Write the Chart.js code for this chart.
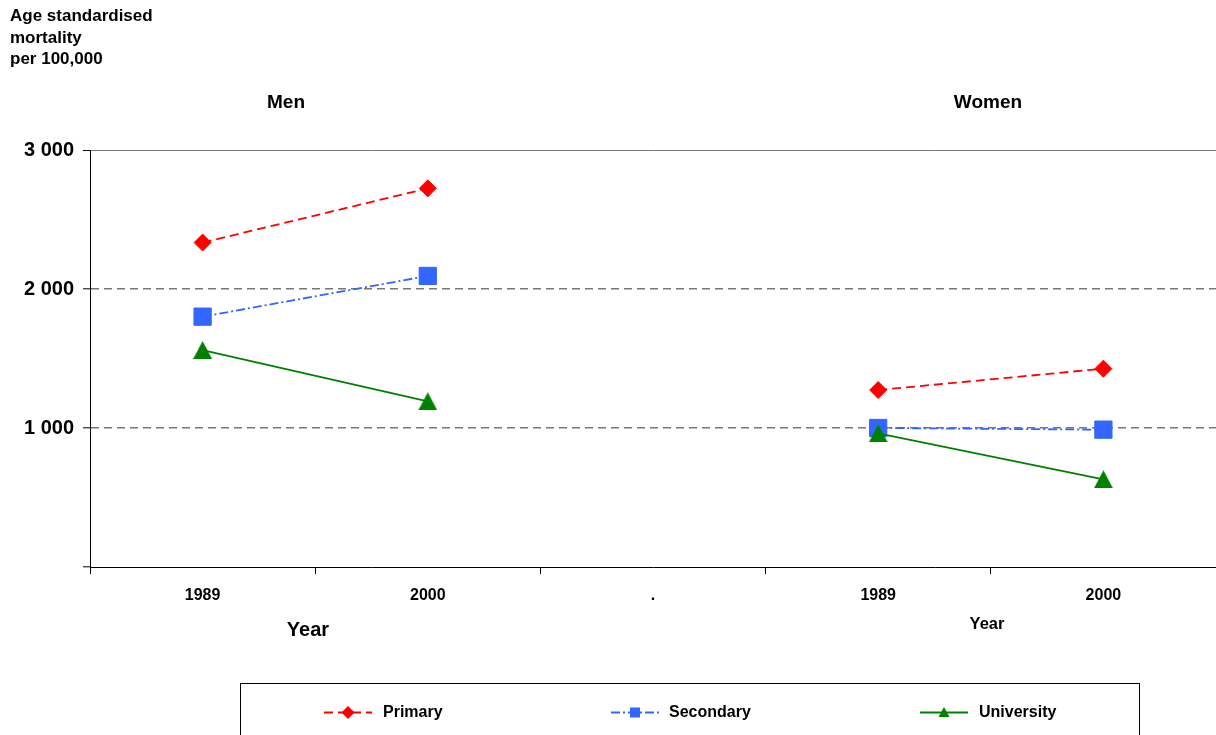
<!DOCTYPE html>
<html>
<head>
<meta charset="utf-8">
<script src="https://cdn.jsdelivr.net/npm/chart.js@4.4.0/dist/chart.umd.min.js"></script>
<style>
  html, body { margin: 0; padding: 0; background: #fff; }
  #wrap { position: relative; width: 1216px; height: 735px; overflow: hidden;
          font-family: "Liberation Sans", Arial, sans-serif; font-weight: bold; color: #000; }
  #chart { position: absolute; left: 0; top: 0; }
  .lbl { position: absolute; line-height: 1; white-space: nowrap; transform: translate(-50%, -50%); }
  #ytitle { position: absolute; left: 10px; top: 5px; font-size: 17px; line-height: 21.6px; }
  #legend { position: absolute; left: 240px; top: 683px; width: 900px; height: 70px;
            border: 1px solid #000; box-sizing: border-box; }
  .litem { position: absolute; top: 0; height: 100%; }
  .litem svg { position: absolute; top: 18px; }
  .litem span { position: absolute; top: 28px; font-size: 16px; line-height: 1; transform: translateY(-50%); white-space: nowrap; }
</style>
</head>
<body>
<div id="wrap">
  <canvas id="chart" width="1216" height="735"></canvas>
  <div id="ytitle">Age standardised<br>mortality<br>per 100,000</div>
  <div class="lbl" style="left:286px;top:101px;font-size:19px;">Men</div>
  <div class="lbl" style="left:988px;top:101px;font-size:19px;">Women</div>
  <div class="lbl" style="left:308px;top:629px;font-size:20px;">Year</div>
  <div class="lbl" style="left:987px;top:623px;font-size:16.5px;">Year</div>
  <div id="legend"></div>
</div>
<script>
// Year categories: men (1989, 2000), a spacer, women (1989, 2000)
const categories = ['1989', '2000', '.', '1989', '2000'];

// Age standardised mortality per 100,000 by education level
const primary    = [2334, 2724, null, 1273, 1427];
const secondary  = [1801, 2094, null, 1000, 988];
const university = [1561, 1192, null, 961, 631];

const seriesNames = ['Primary', 'Secondary', 'University'];
const yTicks = [0, 1000, 2000, 3000];

// Triangle marker centred on its bounding box
function triangleMarker(color, w, h) {
  const c = document.createElement('canvas');
  c.width = w; c.height = h;
  const g = c.getContext('2d');
  g.fillStyle = color;
  g.beginPath();
  g.moveTo(w / 2, 0);
  g.lineTo(w, h);
  g.lineTo(0, h);
  g.closePath();
  g.fill();
  return c;
}

const styles = [
  { color: '#FF0000', dash: [9, 5],       point: 'rectRot',  radius: 8.5 },
  { color: '#3366FF', dash: [9, 3, 2, 3], point: 'rect',     radius: 12.2 },
  { color: '#008000', dash: [],           point: 'triangle', radius: 10 }
];
const seriesData = [primary, secondary, university];

function fmtThousands(v) {
  if (v === 0) return '';
  const th = Math.floor(v / 1000);
  const rest = String(v % 1000).padStart(3, '0');
  return th + ' ' + rest;
}

const datasets = seriesNames.map((name, i) => ({
  label: name,
  data: seriesData[i],
  borderColor: styles[i].color,
  backgroundColor: styles[i].color,
  borderWidth: 1.8,
  borderDash: styles[i].dash,
  pointStyle: styles[i].point === 'triangle' ? triangleMarker(styles[i].color, 19, 18) : styles[i].point,
  pointRadius: styles[i].radius,
  pointHoverRadius: styles[i].radius,
  pointBorderWidth: 1,
  pointBorderColor: styles[i].color,
  pointBackgroundColor: styles[i].color,
  spanGaps: false,
  tension: 0,
  order: 2 - i
}));

new Chart(document.getElementById('chart'), {
  type: 'line',
  data: { labels: categories, datasets },
  options: {
    responsive: false,
    animation: false,
    layout: { autoPadding: false, padding: { top: 150, bottom: 128, left: 0, right: 0 } },
    plugins: { legend: { display: false }, tooltip: { enabled: false }, title: { display: false } },
    scales: {
      x: {
        type: 'category',
        offset: true,
        afterFit: s => { s.height = 40; s.paddingLeft = 0; s.paddingRight = 0; },
        grid: { offset: true, drawOnChartArea: false, drawTicks: true, tickLength: 7,
                color: '#000', tickColor: '#000', lineWidth: 1 },
        border: { display: true, color: '#000', width: 1 },
        ticks: { color: '#000', padding: 12, maxRotation: 0, autoSkip: false,
                 font: { family: '"Liberation Sans", Arial, sans-serif', size: 16, weight: 'bold' } }
      },
      y: {
        min: 0,
        max: 3000,
        afterFit: s => { s.width = 90; s.paddingTop = 0; s.paddingBottom = 0; },
        afterBuildTicks: s => { s.ticks = yTicks.map(v => ({ value: v })); },
        grid: {
          drawOnChartArea: true, drawTicks: true, tickLength: 7,
          color: c => (c.tick && c.tick.value === 0) ? 'rgba(0,0,0,0)' : '#777777',
          lineWidth: c => (c.tick && c.tick.value === 3000) ? 1 : 1.6,
          tickColor: '#000', tickWidth: 1
        },
        border: {
          display: true, color: '#000', width: 1,
          dash: c => (c.tick && (c.tick.value === 1000 || c.tick.value === 2000)) ? [8, 5] : []
        },
        ticks: { color: '#000', padding: 9, callback: v => fmtThousands(v),
                 font: { family: '"Liberation Sans", Arial, sans-serif', size: 20, weight: 'bold' } }
      }
    }
  }
});

// Legend entries: a line sample with its marker, then the series name
const legendPos = [
  { sample: 324, text: 383 },
  { sample: 611, text: 669 },
  { sample: 920, text: 979 }
];
const legend = document.getElementById('legend');
seriesNames.forEach((name, i) => {
  const st = styles[i];
  const item = document.createElement('div');
  item.className = 'litem';
  item.style.left = '0px';
  const sx = legendPos[i].sample - 241;
  const tx = legendPos[i].text - 241;
  let marker = '';
  if (st.point === 'rectRot') {
    marker = '<polygon points="24,4 30.5,10.5 24,17 17.5,10.5" fill="' + st.color + '"/>';
  } else if (st.point === 'rect') {
    marker = '<rect x="19" y="5.5" width="10" height="10" fill="' + st.color + '"/>';
  } else {
    marker = '<polygon points="24,5 29.5,15 18.5,15" fill="' + st.color + '"/>';
  }
  const dash = st.dash.length ? ' stroke-dasharray="' + st.dash.join(' ') + '"' : '';
  item.innerHTML =
    '<svg style="left:' + sx + 'px" width="50" height="21" viewBox="0 0 50 21">' +
    '<line x1="0" y1="10.5" x2="48" y2="10.5" stroke="' + st.color + '" stroke-width="1.8"' + dash + '/>' +
    marker + '</svg>' +
    '<span style="left:' + tx + 'px">' + name + '</span>';
  legend.appendChild(item);
});
</script>
</body>
</html>
